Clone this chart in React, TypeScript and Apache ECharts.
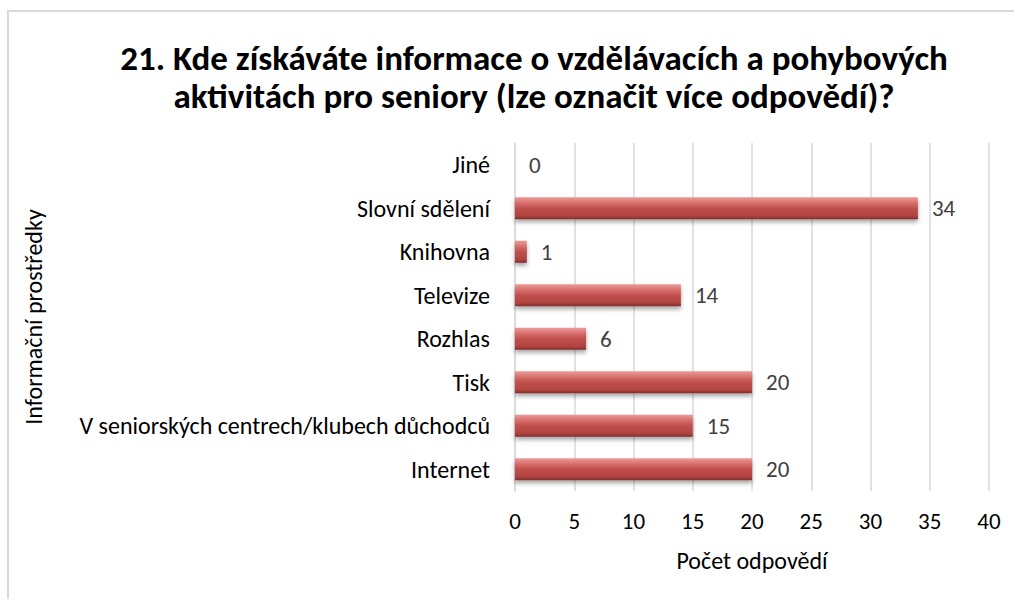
import React, { useEffect, useRef } from "react";
import * as echarts from "echarts";

const categories = [
  "Internet",
  "V seniorských centrech/klubech důchodců",
  "Tisk",
  "Rozhlas",
  "Televize",
  "Knihovna",
  "Slovní sdělení",
  "Jiné",
];
const values = [20, 15, 20, 6, 14, 1, 34, 0];
const xTicks = [0, 5, 10, 15, 20, 25, 30, 35, 40];

const FONT = "Carlito, Lato, 'Open Sans', sans-serif";

export default function App() {
  const ref = useRef<HTMLDivElement>(null);
  useEffect(() => {
    document.body.style.margin = "0";
    const chart = echarts.init(ref.current!, null, { renderer: "svg" });
    chart.setOption({
      animation: false,
      backgroundColor: "#ffffff",
      title: {
        text: "21. Kde získáváte informace o vzdělávacích a pohybových\naktivitách pro seniory (lze označit více odpovědí)?",
        left: 529,
        top: 34,
        textAlign: "center",
        textStyle: {
          fontFamily: FONT,
          fontSize: 35,
          fontWeight: "bold",
          color: "#000000",
          lineHeight: 38,
        },
      },
      graphic: [
        {
          type: "rect",
          shape: { x: 8, y: 11, width: 1100, height: 700 },
          style: { fill: "none", stroke: "#d9d9d9", lineWidth: 2 },
          silent: true,
        },
      ],
      grid: { left: 515, right: 25, top: 143, bottom: 108, containLabel: false },
      xAxis: {
        type: "value",
        min: 0,
        max: 40,
        interval: 5,
        name: "Počet odpovědí",
        nameLocation: "middle",
        nameGap: 57,
        nameTextStyle: { fontFamily: FONT, fontSize: 24, color: "#000000" },
        axisLine: { show: false },
        axisTick: { show: false },
        axisLabel: {
          fontFamily: FONT,
          fontSize: 23,
          color: "#000000",
          margin: 18,
          formatter: (v: number) => (xTicks.includes(v) ? String(v) : ""),
        },
        splitLine: { show: true, lineStyle: { color: "#d9d9d9", width: 1.5 } },
      },
      yAxis: {
        type: "category",
        data: categories,
        name: "Informační prostředky",
        nameLocation: "middle",
        nameGap: 470,
        nameRotate: 90,
        nameTextStyle: { fontFamily: FONT, fontSize: 24, color: "#000000" },
        axisLine: { show: true, lineStyle: { color: "#d9d9d9", width: 1.5 } },
        axisTick: { show: false },
        axisLabel: { fontFamily: FONT, fontSize: 24, color: "#000000", margin: 25 },
      },
      series: [
        {
          type: "bar",
          data: values,
          barWidth: 22,
          itemStyle: {
            color: new echarts.graphic.LinearGradient(0, 0, 0, 1, [
              { offset: 0, color: "#ec9b99" },
              { offset: 0.25, color: "#d8706d" },
              { offset: 0.5, color: "#c0504d" },
              { offset: 0.85, color: "#b04341" },
              { offset: 1, color: "#7e2c2a" },
            ]),
            shadowColor: "rgba(0,0,0,0.35)",
            shadowBlur: 4,
            shadowOffsetY: 3,
          },
          label: {
            show: true,
            position: "right",
            distance: 14,
            fontFamily: FONT,
            fontSize: 23,
            color: "#404040",
          },
        },
      ],
    });
    return () => chart.dispose();
  }, []);
  return <div ref={ref} style={{ width: 1014, height: 599 }} />;
}
